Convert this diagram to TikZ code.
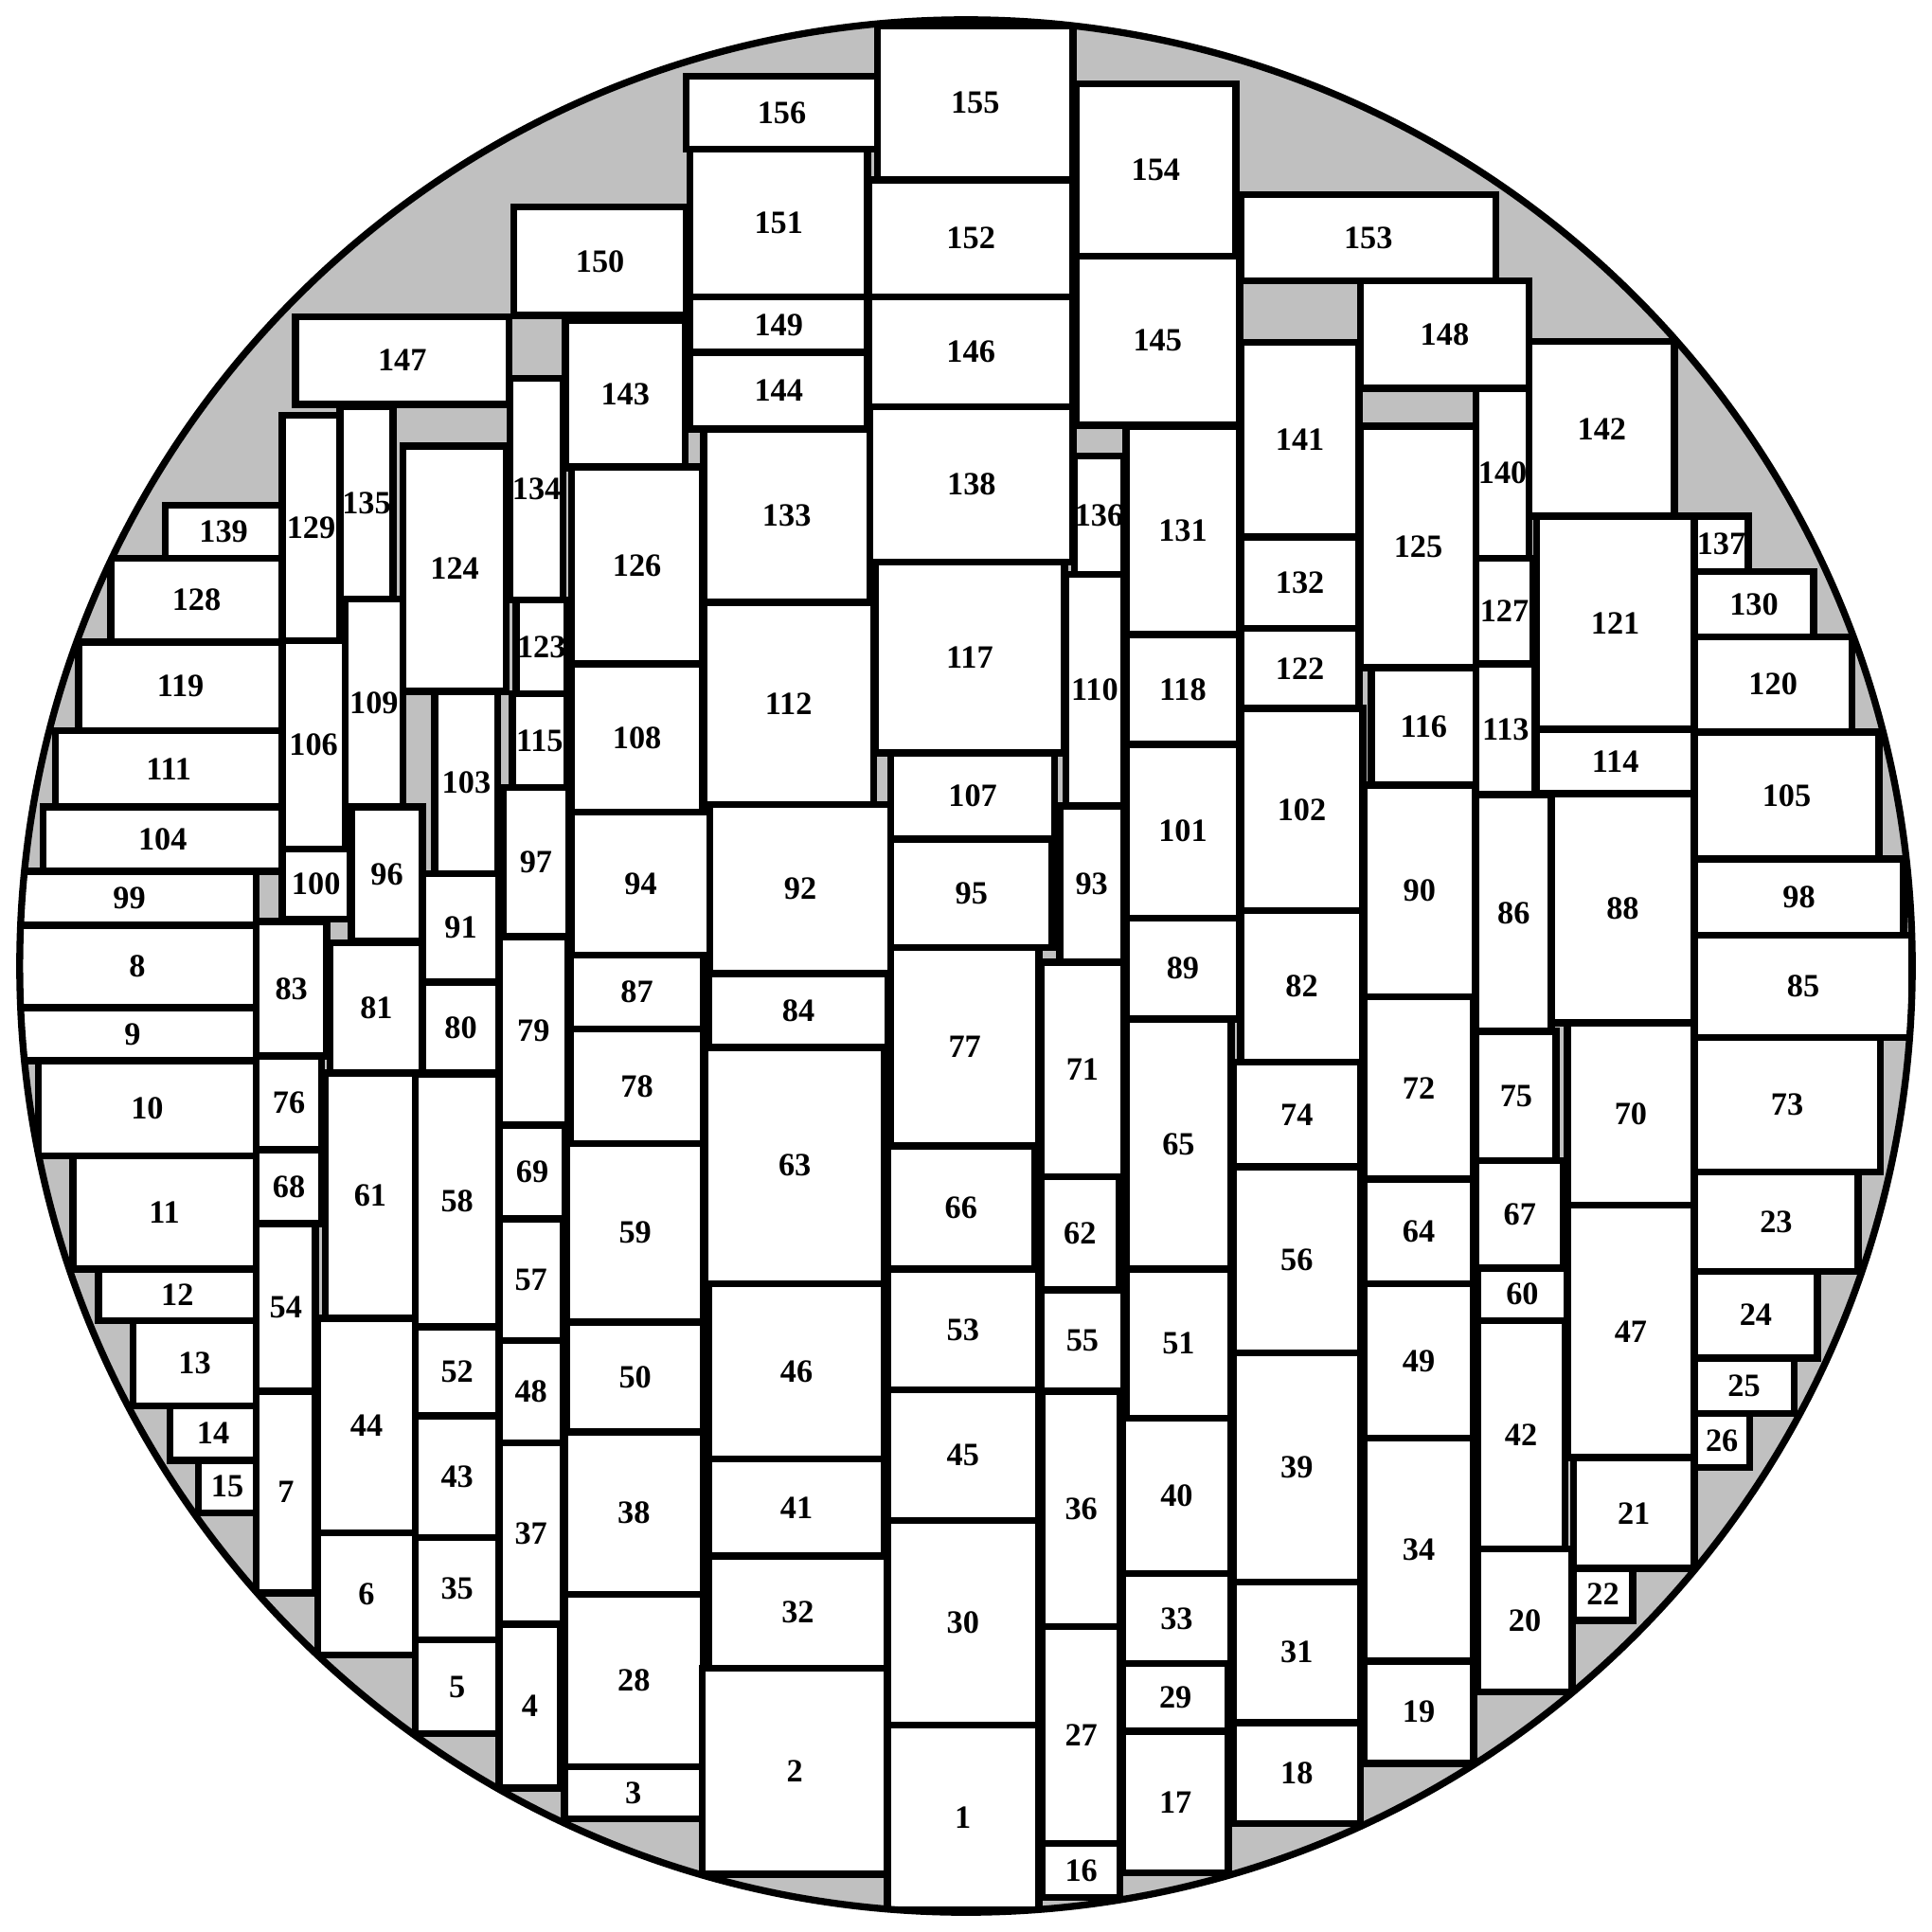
\documentclass[tikz,border=0pt]{standalone}
\usepackage{fontspec}
\setmainfont{Liberation Serif}
\usepackage{tikz}
\definecolor{waferbg}{HTML}{C0C0C0}
\tikzset{
  die/.style     ={draw=black, fill=white, line width=1.65pt},
  dielabel/.style={inner sep=0pt, font=\fontsize{7.5}{9}\selectfont\bfseries},
  rim/.style     ={draw=black, line width=1.6pt},
}
% die number / left / top / right / bottom (picture units, y down)
\def\dielist{%
  139/134/410/229/453, 128/90/453/229/521, 119/64/521/229/593,
  111/45/593/229/655, 104/35/655/229/707, 99/2/707/208/751,
  8/15/751/208/818, 9/7/818/208/861, 10/31/861/208/938,
  11/59/938/208/1030, 12/80/1030/208/1072, 13/108/1072/208/1141,
  14/138/1141/208/1185, 15/161/1185/208/1228,
  129/229/337/276/520, 135/276/330/319/486, 106/229/520/280/689,
  109/280/486/327/655, 100/229/689/284/746, 96/285/655/343/764,
  83/208/748/265/857, 81/268/765/343/871, 91/343/709/405/797,
  80/343/797/405/871, 76/208/857/261/933, 68/208/933/261/993,
  54/208/993/256/1129, 7/208/1129/256/1293, 61/264/871/337/1070,
  58/337/872/405/1077, 44/258/1070/337/1244, 6/258/1244/337/1343,
  52/337/1077/405/1149, 43/337/1149/405/1248, 35/337/1248/405/1331,
  5/337/1331/405/1407, 147/240/257/413/328, 124/327/362/411/561,
  103/353/561/404/709,
  150/417/168/557/256, 134/414/307/457/487, 123/419/487/460/563,
  115/416/563/460/639, 97/408/639/462/760, 79/405/760/461/913,
  69/405/913/459/989, 57/405/989/457/1088, 48/405/1088/457/1171,
  37/405/1171/457/1318, 4/405/1318/455/1451,
  143/459/260/556/380, 126/464/379/570/539, 108/464/539/570/659,
  94/464/659/576/775, 87/463/775/571/835, 78/463/835/571/928,
  59/460/928/571/1073, 50/460/1073/571/1162, 38/458/1162/571/1294,
  28/458/1294/571/1434, 3/458/1434/570/1476,
  156/557/62/712/121, 151/560/121/704/241, 149/560/241/704/286,
  144/560/286/704/348, 133/571/348/706/489, 112/571/489/709/654,
  92/576/653/723/790, 84/575/790/721/850, 63/572/850/718/1042,
  46/575/1042/718/1184, 41/575/1184/718/1263, 32/575/1263/720/1354,
  2/570/1354/720/1521,
  155/712/21/871/146, 152/705/146/871/241, 146/705/241/871/330,
  138/706/330/871/456, 117/710/456/864/611, 107/723/611/856/681,
  95/723/681/854/769, 77/723/769/843/930, 66/720/930/840/1030,
  53/720/1030/843/1128, 45/720/1128/843/1234, 30/720/1234/843/1400,
  1/720/1400/843/1550,
  136/872/370/912/466, 110/865/466/912/654, 93/860/654/912/781,
  71/845/781/912/955, 62/845/955/908/1047, 55/845/1047/912/1129,
  36/846/1129/909/1320, 27/846/1320/909/1496, 16/846/1496/909/1540,
  154/873/68/1003/208, 145/873/208/1006/345,
  131/914/346/1006/515, 118/914/515/1006/604, 101/914/604/1006/745,
  89/914/745/1006/827, 65/914/827/999/1030, 51/914/1030/999/1151,
  40/911/1151/999/1277, 33/911/1277/999/1350, 29/911/1350/997/1405,
  17/911/1405/997/1520,
  153/1007/158/1214/228, 141/1007/278/1103/436, 132/1007/436/1103/510,
  122/1007/510/1103/575, 102/1007/575/1106/739, 82/1007/739/1106/862,
  74/1001/862/1104/947, 56/1001/947/1104/1098, 39/1001/1098/1104/1284,
  31/1001/1284/1104/1398, 18/1001/1398/1104/1480,
  148/1104/228/1241/315, 125/1104/346/1198/542, 116/1113/542/1198/637,
  90/1107/637/1197/809, 72/1107/809/1196/957, 64/1107/957/1196/1042,
  49/1107/1042/1196/1167, 34/1107/1167/1196/1348, 19/1107/1348/1196/1431,
  140/1198/315/1241/453, 127/1198/453/1244/539, 113/1198/539/1246/645,
  86/1198/645/1259/837, 75/1198/837/1263/942, 67/1198/942/1269/1029,
  60/1199/1029/1272/1072, 42/1199/1072/1270/1257, 20/1199/1257/1276/1373,
  142/1241/277/1359/419, 121/1247/419/1375/592, 114/1247/592/1375/644,
  88/1259/644/1375/830, 70/1272/830/1375/978, 47/1272/978/1375/1183,
  21/1277/1183/1375/1273, 22/1277/1273/1325/1315,
  137/1375/419/1419/464, 130/1375/464/1472/517, 120/1375/517/1503/594,
  105/1375/594/1525/697, 98/1375/697/1545/759, 85/1375/759/1552/842,
  73/1375/842/1526/951, 23/1375/951/1508/1032, 24/1375/1032/1475/1102,
  25/1375/1102/1456/1147, 26/1375/1147/1420/1191}

\begin{document}
\begin{tikzpicture}[x=0.1mm,y=-0.1mm]
\useasboundingbox (0,0) rectangle (1568,1568);
\fill[waferbg] (784,784) circle (768);
\begin{scope}
  \clip (784,784) circle (768);
  \foreach \n/\xa/\ya/\xb/\yb in \dielist {
    \draw[die] (\xa,\ya) rectangle (\xb,\yb);
    \node[dielabel] (d\n) at ({(\xa+\xb)/2},{(\ya+\yb)/2}) {\n};
  }
\end{scope}
\draw[rim] (784,784) circle (768);
\end{tikzpicture}
\end{document}
